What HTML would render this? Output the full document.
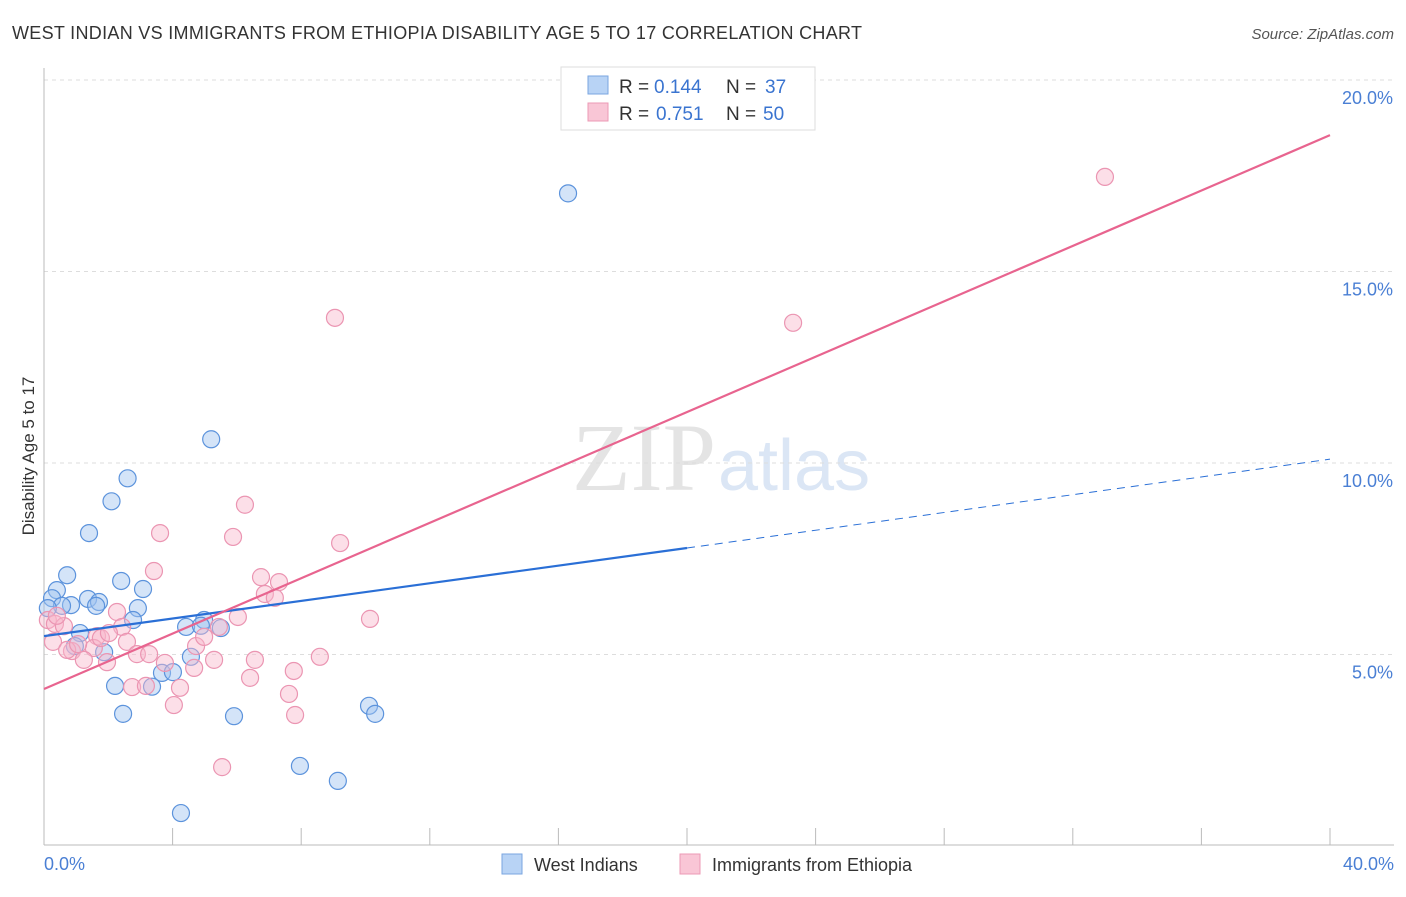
<!DOCTYPE html>
<html><head><meta charset="utf-8"><style>
body{margin:0;background:#fff;font-family:"Liberation Sans",sans-serif}
svg text{font-family:"Liberation Sans",sans-serif}
</style></head><body>
<svg width="1406" height="892">
<text x="12" y="39" font-size="18" fill="#333" textLength="850">WEST INDIAN VS IMMIGRANTS FROM ETHIOPIA DISABILITY AGE 5 TO 17 CORRELATION CHART</text>
<text x="1394" y="39" font-size="15" fill="#555" font-style="italic" text-anchor="end">Source: ZipAtlas.com</text>
<text x="716" y="490" font-size="96" fill="#e4e4e4" text-anchor="end" style="font-family:'Liberation Serif',serif">ZIP</text>
<text x="718" y="490" font-size="72" fill="#dbe6f5">atlas</text>
<g id="grid"></g>
<line x1="44" y1="68" x2="44" y2="845" stroke="#bbb"/>
<line x1="44" y1="845" x2="1394" y2="845" stroke="#bbb"/>
<g id="ticks"></g>
<g id="pts"></g>
<g id="lines"></g>
<text transform="translate(34,456) rotate(-90)" font-size="17" fill="#333" text-anchor="middle">Disability Age 5 to 17</text>
<text x="44" y="870" font-size="18" fill="#4a7fd4">0.0%</text>
<text x="1394" y="870" font-size="18" fill="#4a7fd4" text-anchor="end">40.0%</text>
<g>
<rect x="561" y="67" width="254" height="63" fill="#fff" stroke="#ddd"/>
<rect x="588" y="76" width="20" height="18" fill="#b8d3f5" stroke="#7aa6e0"/>
<rect x="588" y="103" width="20" height="18" fill="#f9c6d6" stroke="#ec9ab5"/>
<text y="93" font-size="19" fill="#333"><tspan x="619">R =</tspan><tspan x="654" fill="#3a74d0">0.144</tspan><tspan x="726">N =</tspan><tspan x="765" fill="#3a74d0">37</tspan></text>
<text y="120" font-size="19" fill="#333"><tspan x="619">R =</tspan><tspan x="656" fill="#3a74d0">0.751</tspan><tspan x="726">N =</tspan><tspan x="763" fill="#3a74d0">50</tspan></text>
</g>
<g>
<rect x="502" y="854" width="20" height="20" fill="#b8d3f5" stroke="#7aa6e0"/>
<text x="534" y="871" font-size="18" fill="#333">West Indians</text>
<rect x="680" y="854" width="20" height="20" fill="#f9c6d6" stroke="#ec9ab5"/>
<text x="712" y="871" font-size="18" fill="#333">Immigrants from Ethiopia</text>
</g>
</svg>
<script>
const yTicks=[5,10,15,20];
const yTickLabels=["5.0%","10.0%","15.0%","20.0%"];
const xTicks=[0,4,8,12,16,20,24,28,32,36,40];
const blueX=[16.3,5.2,2.6,2.1,1.4,0.72,0.4,2.4,3.08,0.25,0.84,0.56,1.37,1.71,1.62,2.92,0.12,2.77,1.12,1.87,0.96,4.57,4.42,4.98,4.88,5.5,3.67,4.01,2.21,3.36,2.46,5.91,10.11,10.3,7.96,9.14,4.26];
const blueY=[17.04,10.62,9.6,9.0,8.17,7.07,6.68,6.92,6.71,6.47,6.29,6.27,6.45,6.37,6.27,6.21,6.21,5.9,5.56,5.06,5.22,4.94,5.72,5.9,5.75,5.69,4.52,4.54,4.18,4.16,3.45,3.39,3.66,3.45,2.09,1.7,0.86];
const pinkX=[33.0,9.05,23.3,6.25,3.61,5.88,9.21,3.42,6.75,7.31,6.87,7.18,6.03,10.14,2.27,0.12,0.34,0.62,0.4,2.43,1.65,2.58,0.28,0.87,1.55,2.89,3.27,1.24,1.96,3.76,4.73,4.98,5.44,5.29,6.56,8.58,7.77,4.67,6.41,4.23,2.74,3.17,4.04,7.62,7.81,5.54,0.72,1.77,1.06,2.02];
const pinkY=[17.47,13.79,13.66,8.91,8.17,8.07,7.91,7.18,7.02,6.89,6.58,6.48,5.98,5.93,6.11,5.9,5.8,5.74,6.01,5.72,5.48,5.33,5.33,5.09,5.17,5.01,5.01,4.86,4.8,4.78,5.22,5.46,5.72,4.86,4.86,4.94,4.57,4.65,4.39,4.13,4.15,4.18,3.68,3.97,3.42,2.06,5.12,5.43,5.27,5.56];
const blueFit=[5.48,7.78,10.1]; // at x=0,20,40
const pinkFit=[4.1,18.56]; // at x=0,40
const X=v=>44+v/40*1286, Y=v=>846-v/5*191.5;
const NS="http://www.w3.org/2000/svg";
function mk(t,a,p){const e=document.createElementNS(NS,t);for(const k in a)e.setAttribute(k,a[k]);p.appendChild(e);return e;}
const grid=document.getElementById('grid'),ticks=document.getElementById('ticks');
yTicks.forEach((v,i)=>{
 const l=mk('line',{x1:44,x2:1394,y1:Y(v),y2:Y(v),stroke:'#ddd','stroke-dasharray':'4,4'},grid);
 
 
 const t=mk('text',{x:1393,y:Y(v)+24,'font-size':18,fill:'#4a7fd4','text-anchor':'end'},ticks);
 t.textContent=yTickLabels[i];
 
 
});
xTicks.forEach(v=>{
 const l=mk('line',{x1:X(v),x2:X(v),y1:828,y2:845,stroke:'#bbb'},ticks);
 
 
});
const pts=document.getElementById('pts');
blueX.forEach((x,i)=>{
 const c=mk('circle',{cx:X(x),cy:Y(blueY[i]),r:8.5,fill:'rgba(160,195,240,0.45)',stroke:'#5c93dc','stroke-width':1.2},pts);
 
 
});
pinkX.forEach((x,i)=>{
 const c=mk('circle',{cx:X(x),cy:Y(pinkY[i]),r:8.5,fill:'rgba(248,185,205,0.45)',stroke:'#eb95b2','stroke-width':1.2},pts);
 
 
});
const lines=document.getElementById('lines');
let a=mk('line',{x1:X(0),y1:Y(blueFit[0]),x2:X(20),y2:Y(blueFit[1]),stroke:'#2a6fd6','stroke-width':2.2},lines);


let b=mk('line',{x1:X(20),y1:Y(blueFit[1]),x2:X(40),y2:Y(blueFit[2]),stroke:'#2a6fd6','stroke-width':1,'stroke-dasharray':'8,6'},lines);


let c=mk('line',{x1:X(0),y1:Y(pinkFit[0]),x2:X(40),y2:Y(pinkFit[1]),stroke:'#e8648f','stroke-width':2.2},lines);


</script>
</body></html>
